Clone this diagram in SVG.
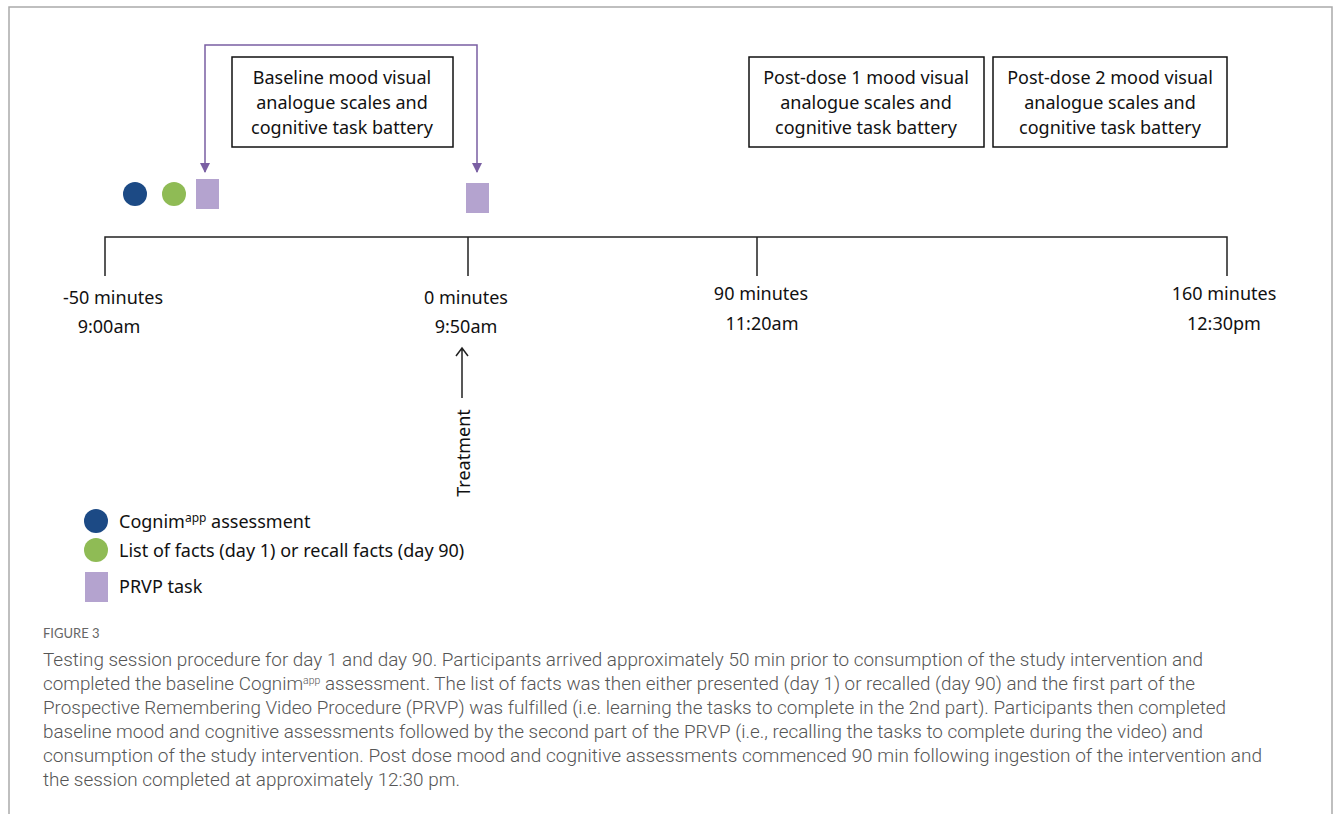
<svg xmlns="http://www.w3.org/2000/svg" width="1333" height="814" viewBox="0 0 1333 814">
<style>
.t{font-family:"Noto Sans","Open Sans",sans-serif;font-size:18px;fill:#111}
.box{fill:#fff;stroke:#111;stroke-width:1.5}
.sq{fill:#b4a3cf}
.ax{stroke:#222;stroke-width:1.5;fill:none}
.cap{font-family:Roboto,Lato,"Noto Sans",sans-serif;font-weight:300;font-size:18px;fill:#555;font-variant-ligatures:none}
.fig{font-family:Lato,"Noto Sans",sans-serif;font-size:13px;fill:#666}
</style>
<path d="M9,814 V7 H1332 V814" fill="none" stroke="#aaa" stroke-width="1.5"/>

<g id="connectors">
<path d="M205,172 V45 H477 V172" fill="none" stroke="#7a5fa3" stroke-width="1.5"/>
<path d="M200,163 L210,163 L205,173 Z" fill="#7a5fa3"/>
<path d="M472,163 L482,163 L477,173 Z" fill="#7a5fa3"/>
<path class="ax" d="M105,276 V237 H1227 V276 M468,237 V276 M757,237 V276"/>
<path class="ax" d="M462,398 V348 M456,356 L462,348 L468,356"/>
</g>

<g id="markers-start">
<circle cx="135" cy="194" r="12" fill="#1c4a85"/>
<circle cx="174" cy="194" r="12" fill="#8fbb55"/>
<rect class="sq" x="196" y="179" width="23" height="30"/>
</g>
<g id="marker-zero">
<rect class="sq" x="466" y="183" width="23" height="30"/>
</g>

<g id="baseline-box">
<rect class="box" x="232" y="57" width="221" height="90"/>
<text class="t" text-anchor="middle" x="342" y="84">Baseline mood visual</text>
<text class="t" text-anchor="middle" x="342" y="109">analogue scales and</text>
<text class="t" text-anchor="middle" x="342" y="134">cognitive task battery</text>
</g>
<g id="postdose1-box">
<rect class="box" x="749" y="57" width="235" height="90"/>
<text class="t" text-anchor="middle" x="866" y="84">Post-dose 1 mood  visual</text>
<text class="t" text-anchor="middle" x="866" y="109">analogue scales and</text>
<text class="t" text-anchor="middle" x="866" y="134">cognitive task battery</text>
</g>
<g id="postdose2-box">
<rect class="box" x="993" y="57" width="234" height="90"/>
<text class="t" text-anchor="middle" x="1110" y="84">Post-dose 2 mood  visual</text>
<text class="t" text-anchor="middle" x="1110" y="109">analogue scales and</text>
<text class="t" text-anchor="middle" x="1110" y="134">cognitive task battery</text>
</g>

<g id="t-minus50">
<text class="t" text-anchor="middle" x="113" y="304">-50 minutes</text>
<text class="t" text-anchor="middle" x="109" y="333">9:00am</text>
</g>
<g id="t-zero">
<text class="t" text-anchor="middle" x="466" y="304">0 minutes</text>
<text class="t" text-anchor="middle" x="466" y="333">9:50am</text>
</g>
<g id="t-90">
<text class="t" text-anchor="middle" x="761" y="300">90 minutes</text>
<text class="t" text-anchor="middle" x="762" y="330">11:20am</text>
</g>
<g id="t-160">
<text class="t" text-anchor="middle" x="1224" y="300">160 minutes</text>
<text class="t" text-anchor="middle" x="1224" y="330">12:30pm</text>
</g>
<g id="treatment">
<text class="t" text-anchor="middle" transform="translate(470,453) rotate(-90)">Treatment</text>
</g>

<g id="legend">
<circle cx="96" cy="521" r="12" fill="#1c4a85"/>
<circle cx="96" cy="550" r="12" fill="#8fbb55"/>
<rect class="sq" x="85" y="572" width="23" height="30"/>
<text class="t" x="119" y="528">Cognim<tspan font-size="12" dy="-6">app</tspan><tspan dy="6"> assessment</tspan></text>
<text class="t" x="119" y="557">List of facts (day 1) or recall facts (day 90)</text>
<text class="t" x="119" y="593">PRVP task</text>
</g>

<g id="caption">
<text class="fig" x="43" y="638">FIGURE 3</text>
<text class="cap" x="43" y="666" textLength="1160" lengthAdjust="spacingAndGlyphs">Testing session procedure for day 1 and day 90. Participants arrived approximately 50 min prior to consumption of the study intervention and</text>
<text class="cap" x="43" y="690" textLength="1152" lengthAdjust="spacingAndGlyphs">completed the baseline Cognim<tspan font-size="10" dy="-6">app</tspan><tspan dy="6"> assessment. The list of facts was then either presented (day 1) or recalled (day 90) and the first part of the</tspan></text>
<text class="cap" x="43" y="714" textLength="1183" lengthAdjust="spacingAndGlyphs">Prospective Remembering Video Procedure (PRVP) was fulfilled (i.e. learning the tasks to complete in the 2nd part). Participants then completed</text>
<text class="cap" x="43" y="738" textLength="1160" lengthAdjust="spacingAndGlyphs">baseline mood and cognitive assessments followed by the second part of the PRVP (i.e., recalling the tasks to complete during the video) and</text>
<text class="cap" x="43" y="762" textLength="1219" lengthAdjust="spacingAndGlyphs">consumption of the study intervention. Post dose mood and cognitive assessments commenced 90 min following ingestion of the intervention and</text>
<text class="cap" x="43" y="786" textLength="417" lengthAdjust="spacingAndGlyphs">the session completed at approximately 12:30 pm.</text>
</g>
</svg>
